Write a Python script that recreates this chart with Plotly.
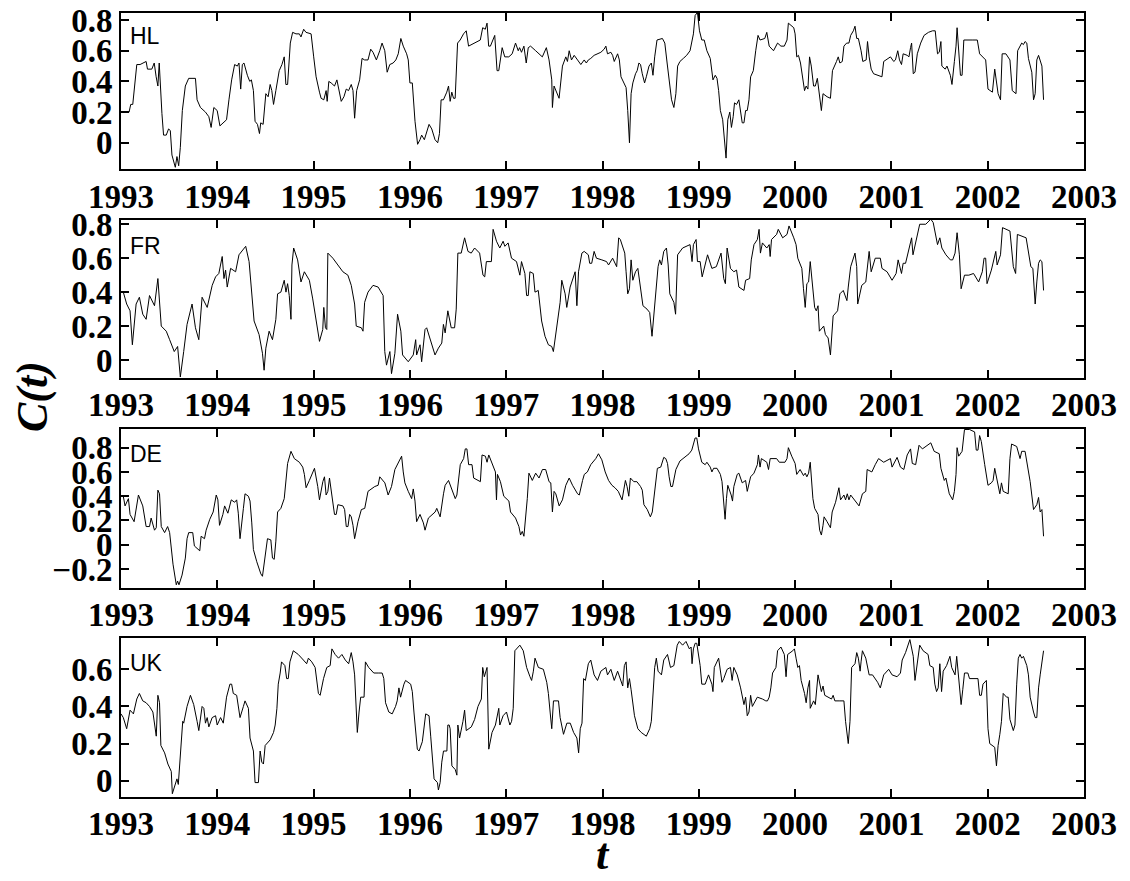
import plotly.graph_objects as go

# ---------------- data (decimal years, C(t)) ----------------
HL_T = [1993.000, 1993.084, 1993.101, 1993.122, 1993.164, 1993.198, 1993.261, 1993.275, 1993.320, 1993.345,
        1993.365, 1993.383, 1993.397, 1993.407, 1993.425, 1993.442, 1993.470, 1993.494, 1993.512, 1993.529,
        1993.564, 1993.581, 1993.599, 1993.616, 1993.637, 1993.668, 1993.703, 1993.773, 1993.790, 1993.825,
        1993.877, 1993.912, 1993.936, 1993.964, 1993.999, 1994.027, 1994.062, 1994.096, 1994.121, 1994.149,
        1994.180, 1994.208, 1994.225, 1994.243, 1994.260, 1994.277, 1994.312, 1994.337, 1994.354, 1994.375,
        1994.392, 1994.417, 1994.438, 1994.451, 1994.476, 1994.504, 1994.528, 1994.549, 1994.566, 1994.584,
        1994.608, 1994.643, 1994.671, 1994.695, 1994.712, 1994.730, 1994.758, 1994.782, 1994.817, 1994.852,
        1994.869, 1994.897, 1994.921, 1994.974, 1995.001, 1995.026, 1995.061, 1995.078, 1995.106, 1995.130,
        1995.141, 1995.158, 1995.182, 1995.217, 1995.242, 1995.262, 1995.287, 1995.315, 1995.339, 1995.363,
        1995.391, 1995.409, 1995.426, 1995.447, 1995.478, 1995.503, 1995.530, 1995.565, 1995.593, 1995.617,
        1995.652, 1995.687, 1995.711, 1995.739, 1995.764, 1995.791, 1995.826, 1995.854, 1995.879, 1995.906,
        1995.931, 1995.966, 1995.983, 1996.000, 1996.025, 1996.053, 1996.080, 1996.105, 1996.122, 1996.150,
        1996.174, 1996.199, 1996.227, 1996.261, 1996.289, 1996.307, 1996.324, 1996.348, 1996.383, 1996.401,
        1996.418, 1996.435, 1996.453, 1996.470, 1996.495, 1996.522, 1996.557, 1996.585, 1996.609, 1996.637,
        1996.679, 1996.731, 1996.756, 1996.783, 1996.801, 1996.818, 1996.836, 1996.860, 1996.881, 1996.905,
        1996.923, 1996.958, 1996.985, 1997.027, 1997.062, 1997.097, 1997.125, 1997.139, 1997.159, 1997.184,
        1997.208, 1997.229, 1997.253, 1997.306, 1997.375, 1997.417, 1997.445, 1997.473, 1997.480, 1997.497,
        1997.514, 1997.549, 1997.584, 1997.619, 1997.636, 1997.654, 1997.678, 1997.706, 1997.741, 1997.775,
        1997.810, 1997.832, 1997.853, 1997.878, 1997.913, 1997.948, 1997.983, 1998.017, 1998.035, 1998.052,
        1998.087, 1998.105, 1998.122, 1998.157, 1998.175, 1998.192, 1998.227, 1998.245, 1998.262, 1998.280,
        1998.297, 1998.315, 1998.343, 1998.360, 1998.378, 1998.395, 1998.413, 1998.437, 1998.455, 1998.483,
        1998.507, 1998.524, 1998.542, 1998.566, 1998.622, 1998.647, 1998.671, 1998.692, 1998.717, 1998.741,
        1998.762, 1998.780, 1998.804, 1998.839, 1998.874, 1998.909, 1998.927, 1998.944, 1998.962, 1998.986,
        1999.007, 1999.031, 1999.056, 1999.084, 1999.119, 1999.147, 1999.171, 1999.189, 1999.206, 1999.224,
        1999.248, 1999.266, 1999.283, 1999.301, 1999.322, 1999.339, 1999.357, 1999.371, 1999.392, 1999.416,
        1999.434, 1999.451, 1999.469, 1999.486, 1999.503, 1999.521, 1999.538, 1999.566, 1999.591, 1999.615,
        1999.636, 1999.685, 1999.706, 1999.731, 1999.776, 1999.818, 1999.853, 1999.888, 1999.916, 1999.930,
        1999.986, 2000.000, 2000.017, 2000.035, 2000.056, 2000.080, 2000.098, 2000.115, 2000.133, 2000.150,
        2000.168, 2000.192, 2000.210, 2000.231, 2000.255, 2000.273, 2000.290, 2000.332, 2000.367, 2000.388,
        2000.430, 2000.448, 2000.465, 2000.490, 2000.507, 2000.535, 2000.559, 2000.577, 2000.605, 2000.622,
        2000.640, 2000.657, 2000.685, 2000.703, 2000.738, 2000.752, 2000.769, 2000.790, 2000.815, 2000.867,
        2000.902, 2000.920, 2000.965, 2000.990, 2001.024, 2001.042, 2001.066, 2001.084, 2001.105, 2001.122,
        2001.164, 2001.182, 2001.199, 2001.210, 2001.227, 2001.245, 2001.269, 2001.304, 2001.339, 2001.385,
        2001.427, 2001.455, 2001.479, 2001.497, 2001.514, 2001.524, 2001.559, 2001.577, 2001.612, 2001.629,
        2001.654, 2001.671, 2001.682, 2001.699, 2001.717, 2001.734, 2001.752, 2001.846, 2001.892, 2001.916,
        2001.979, 2002.003, 2002.049, 2002.073, 2002.091, 2002.108, 2002.133, 2002.150, 2002.189, 2002.231,
        2002.255, 2002.294, 2002.311, 2002.353, 2002.371, 2002.388, 2002.406, 2002.423, 2002.458, 2002.476,
        2002.493, 2002.510, 2002.528, 2002.563, 2002.580]
HL_C = [0.20, 0.20, 0.25, 0.25, 0.51, 0.51, 0.53, 0.48, 0.48, 0.52,
        0.43, 0.37, 0.52, 0.37, 0.19, 0.05, 0.05, 0.09, 0.08, -0.08,
        -0.16, -0.09, -0.15, -0.03, 0.21, 0.37, 0.42, 0.42, 0.28, 0.23,
        0.20, 0.17, 0.10, 0.23, 0.21, 0.11, 0.13, 0.15, 0.28, 0.41,
        0.51, 0.50, 0.52, 0.35, 0.51, 0.52, 0.44, 0.40, 0.41, 0.34,
        0.14, 0.12, 0.06, 0.13, 0.12, 0.32, 0.30, 0.38, 0.34, 0.25,
        0.34, 0.47, 0.51, 0.56, 0.38, 0.38, 0.65, 0.72, 0.71, 0.71,
        0.69, 0.74, 0.72, 0.71, 0.56, 0.43, 0.33, 0.29, 0.28, 0.34,
        0.27, 0.40, 0.39, 0.37, 0.41, 0.34, 0.27, 0.30, 0.35, 0.34,
        0.38, 0.34, 0.16, 0.34, 0.41, 0.55, 0.54, 0.54, 0.61, 0.59,
        0.54, 0.60, 0.65, 0.60, 0.46, 0.51, 0.52, 0.54, 0.58, 0.68,
        0.63, 0.58, 0.54, 0.39, 0.39, 0.14, -0.01, 0.02, 0.05, 0.02,
        0.07, 0.12, 0.09, 0.02, 0.00, 0.06, 0.28, 0.28, 0.33, 0.37,
        0.27, 0.33, 0.29, 0.29, 0.65, 0.67, 0.71, 0.73, 0.63, 0.64,
        0.65, 0.67, 0.75, 0.74, 0.78, 0.63, 0.63, 0.67, 0.70, 0.47,
        0.47, 0.62, 0.56, 0.56, 0.58, 0.65, 0.60, 0.62, 0.59, 0.63,
        0.52, 0.62, 0.63, 0.60, 0.56, 0.62, 0.54, 0.41, 0.23, 0.37,
        0.34, 0.29, 0.50, 0.56, 0.53, 0.60, 0.54, 0.57, 0.54, 0.51,
        0.54, 0.52, 0.54, 0.55, 0.57, 0.58, 0.59, 0.61, 0.63, 0.58,
        0.59, 0.57, 0.53, 0.58, 0.54, 0.43, 0.38, 0.36, 0.21, 0.00,
        0.32, 0.39, 0.45, 0.47, 0.52, 0.51, 0.45, 0.39, 0.43, 0.50,
        0.52, 0.44, 0.56, 0.67, 0.68, 0.65, 0.52, 0.39, 0.28, 0.23,
        0.32, 0.50, 0.53, 0.55, 0.57, 0.60, 0.65, 0.71, 0.83, 0.85,
        0.73, 0.67, 0.67, 0.60, 0.55, 0.41, 0.44, 0.42, 0.34, 0.21,
        0.15, 0.02, -0.10, 0.15, 0.20, 0.10, 0.17, 0.26, 0.25, 0.28,
        0.19, 0.13, 0.13, 0.21, 0.21, 0.28, 0.43, 0.47, 0.60, 0.70,
        0.67, 0.68, 0.72, 0.63, 0.60, 0.65, 0.63, 0.63, 0.67, 0.78,
        0.75, 0.71, 0.56, 0.57, 0.52, 0.40, 0.34, 0.37, 0.35, 0.56,
        0.50, 0.37, 0.37, 0.42, 0.28, 0.21, 0.32, 0.30, 0.29, 0.47,
        0.53, 0.56, 0.52, 0.53, 0.63, 0.65, 0.65, 0.70, 0.73, 0.76,
        0.68, 0.68, 0.60, 0.53, 0.54, 0.66, 0.56, 0.48, 0.45, 0.44,
        0.43, 0.53, 0.55, 0.56, 0.53, 0.54, 0.60, 0.54, 0.51, 0.58,
        0.57, 0.56, 0.62, 0.65, 0.45, 0.46, 0.58, 0.65, 0.70, 0.72,
        0.73, 0.73, 0.58, 0.59, 0.66, 0.50, 0.48, 0.50, 0.44, 0.38,
        0.53, 0.63, 0.75, 0.57, 0.44, 0.44, 0.67, 0.67, 0.67, 0.58,
        0.54, 0.35, 0.33, 0.48, 0.40, 0.32, 0.28, 0.58, 0.58, 0.54,
        0.34, 0.32, 0.60, 0.65, 0.64, 0.66, 0.65, 0.55, 0.46, 0.28,
        0.32, 0.54, 0.57, 0.50, 0.28]

FR_T = [1993.000, 1993.024, 1993.059, 1993.094, 1993.118, 1993.157, 1993.191, 1993.226, 1993.261, 1993.296,
        1993.348, 1993.383, 1993.418, 1993.470, 1993.505, 1993.553, 1993.588, 1993.616, 1993.651, 1993.686,
        1993.738, 1993.773, 1993.808, 1993.842, 1993.895, 1993.947, 1993.982, 1994.016, 1994.051, 1994.069,
        1994.086, 1994.103, 1994.138, 1994.190, 1994.225, 1994.295, 1994.330, 1994.364, 1994.382, 1994.434,
        1994.469, 1994.486, 1994.504, 1994.538, 1994.573, 1994.608, 1994.626, 1994.660, 1994.695, 1994.713,
        1994.730, 1994.747, 1994.765, 1994.775, 1994.793, 1994.834, 1994.869, 1994.904, 1994.956, 1994.991,
        1995.036, 1995.061, 1995.095, 1995.106, 1995.123, 1995.137, 1995.148, 1995.200, 1995.252, 1995.304,
        1995.356, 1995.391, 1995.426, 1995.443, 1995.496, 1995.513, 1995.530, 1995.565, 1995.617, 1995.670,
        1995.722, 1995.739, 1995.757, 1995.792, 1995.809, 1995.844, 1995.872, 1995.906, 1995.924, 1995.983,
        1996.035, 1996.060, 1996.070, 1996.105, 1996.122, 1996.157, 1996.174, 1996.227, 1996.261, 1996.296,
        1996.331, 1996.348, 1996.366, 1996.394, 1996.429, 1996.464, 1996.481, 1996.498, 1996.533, 1996.568,
        1996.603, 1996.637, 1996.672, 1996.724, 1996.759, 1996.777, 1996.794, 1996.846, 1996.864, 1996.899,
        1996.933, 1996.968, 1996.986, 1997.020, 1997.055, 1997.107, 1997.142, 1997.159, 1997.194, 1997.212,
        1997.229, 1997.246, 1997.281, 1997.299, 1997.333, 1997.368, 1997.403, 1997.438, 1997.473, 1997.490,
        1997.525, 1997.560, 1997.577, 1997.612, 1997.629, 1997.664, 1997.716, 1997.734, 1997.751, 1997.786,
        1997.810, 1997.853, 1997.867, 1997.888, 1997.913, 1997.937, 1997.993, 1998.042, 1998.063, 1998.087,
        1998.105, 1998.147, 1998.168, 1998.185, 1998.210, 1998.231, 1998.245, 1998.262, 1998.280, 1998.297,
        1998.315, 1998.343, 1998.367, 1998.402, 1998.420, 1998.462, 1998.490, 1998.514, 1998.542, 1998.577,
        1998.594, 1998.612, 1998.636, 1998.664, 1998.682, 1998.699, 1998.741, 1998.759, 1998.780, 1998.832,
        1998.909, 1998.930, 1998.944, 1998.972, 1998.986, 1999.014, 1999.035, 1999.056, 1999.091, 1999.136,
        1999.182, 1999.231, 1999.259, 1999.276, 1999.294, 1999.329, 1999.364, 1999.392, 1999.416, 1999.469,
        1999.486, 1999.528, 1999.545, 1999.573, 1999.608, 1999.626, 1999.640, 1999.661, 1999.706, 1999.731,
        1999.741, 1999.755, 1999.808, 1999.825, 1999.871, 1999.916, 1999.937, 1999.986, 2000.010, 2000.028,
        2000.070, 2000.087, 2000.105, 2000.122, 2000.140, 2000.157, 2000.185, 2000.203, 2000.220, 2000.238,
        2000.252, 2000.297, 2000.315, 2000.343, 2000.367, 2000.378, 2000.395, 2000.441, 2000.465, 2000.500,
        2000.538, 2000.552, 2000.577, 2000.622, 2000.640, 2000.650, 2000.692, 2000.734, 2000.752, 2000.769,
        2000.790, 2000.832, 2000.885, 2000.902, 2000.955, 2001.007, 2001.049, 2001.070, 2001.105, 2001.122,
        2001.147, 2001.189, 2001.210, 2001.224, 2001.269, 2001.294, 2001.357, 2001.409, 2001.434, 2001.455,
        2001.479, 2001.503, 2001.524, 2001.566, 2001.612, 2001.636, 2001.661, 2001.682, 2001.706, 2001.724,
        2001.759, 2001.804, 2001.853, 2001.906, 2001.944, 2001.962, 2001.979, 2001.993, 2002.038, 2002.084,
        2002.098, 2002.133, 2002.154, 2002.231, 2002.248, 2002.266, 2002.290, 2002.308, 2002.399, 2002.423,
        2002.448, 2002.469, 2002.493, 2002.510, 2002.528, 2002.545, 2002.563, 2002.580]
FR_C = [0.40, 0.40, 0.33, 0.29, 0.09, 0.33, 0.37, 0.27, 0.24, 0.38,
        0.32, 0.48, 0.20, 0.17, 0.12, 0.05, 0.08, -0.10, 0.05, 0.21,
        0.33, 0.19, 0.12, 0.37, 0.31, 0.44, 0.49, 0.51, 0.61, 0.48,
        0.53, 0.43, 0.54, 0.52, 0.62, 0.67, 0.58, 0.34, 0.23, 0.15,
        0.04, -0.06, 0.07, 0.17, 0.12, 0.24, 0.39, 0.40, 0.47, 0.40,
        0.45, 0.38, 0.24, 0.56, 0.66, 0.59, 0.46, 0.52, 0.47, 0.36,
        0.19, 0.11, 0.18, 0.31, 0.19, 0.18, 0.63, 0.60, 0.56, 0.52,
        0.50, 0.44, 0.33, 0.20, 0.19, 0.17, 0.34, 0.40, 0.44, 0.43,
        0.38, 0.05, -0.03, 0.05, -0.08, 0.04, 0.27, 0.17, 0.03, -0.01,
        0.03, 0.12, 0.03, 0.09, -0.01, 0.18, 0.19, 0.10, 0.03, 0.07,
        0.10, 0.21, 0.16, 0.29, 0.19, 0.19, 0.30, 0.63, 0.63, 0.72,
        0.64, 0.63, 0.66, 0.63, 0.50, 0.49, 0.58, 0.58, 0.77, 0.70,
        0.66, 0.70, 0.67, 0.69, 0.60, 0.58, 0.50, 0.58, 0.51, 0.38,
        0.38, 0.52, 0.51, 0.40, 0.41, 0.23, 0.14, 0.09, 0.08, 0.05,
        0.21, 0.34, 0.47, 0.39, 0.31, 0.43, 0.52, 0.32, 0.52, 0.63,
        0.64, 0.62, 0.57, 0.57, 0.64, 0.60, 0.59, 0.58, 0.56, 0.58,
        0.60, 0.55, 0.72, 0.71, 0.66, 0.63, 0.52, 0.39, 0.42, 0.59,
        0.47, 0.52, 0.54, 0.41, 0.32, 0.30, 0.28, 0.14, 0.34, 0.55,
        0.59, 0.56, 0.64, 0.66, 0.56, 0.39, 0.34, 0.27, 0.62, 0.66,
        0.68, 0.58, 0.68, 0.71, 0.58, 0.58, 0.49, 0.54, 0.62, 0.54,
        0.55, 0.63, 0.48, 0.45, 0.66, 0.54, 0.52, 0.53, 0.43, 0.41,
        0.47, 0.48, 0.59, 0.68, 0.71, 0.77, 0.63, 0.69, 0.66, 0.68,
        0.61, 0.71, 0.74, 0.77, 0.72, 0.74, 0.79, 0.72, 0.68, 0.60,
        0.54, 0.42, 0.31, 0.45, 0.46, 0.58, 0.42, 0.31, 0.29, 0.32,
        0.17, 0.20, 0.15, 0.13, 0.03, 0.13, 0.26, 0.29, 0.39, 0.41,
        0.35, 0.43, 0.55, 0.63, 0.55, 0.33, 0.44, 0.46, 0.56, 0.64,
        0.52, 0.60, 0.60, 0.54, 0.52, 0.47, 0.51, 0.59, 0.51, 0.57,
        0.57, 0.66, 0.72, 0.62, 0.74, 0.80, 0.80, 0.83, 0.81, 0.74,
        0.68, 0.72, 0.66, 0.62, 0.59, 0.59, 0.63, 0.75, 0.62, 0.42,
        0.50, 0.50, 0.51, 0.46, 0.52, 0.60, 0.60, 0.45, 0.53, 0.64,
        0.56, 0.62, 0.78, 0.76, 0.66, 0.55, 0.51, 0.74, 0.72, 0.64,
        0.55, 0.54, 0.33, 0.46, 0.57, 0.59, 0.58, 0.41]

DE_T = [1993.000, 1993.024, 1993.042, 1993.077, 1993.094, 1993.136, 1993.181, 1993.226, 1993.261, 1993.296,
        1993.313, 1993.348, 1993.366, 1993.383, 1993.400, 1993.418, 1993.453, 1993.484, 1993.505, 1993.540,
        1993.574, 1993.588, 1993.602, 1993.634, 1993.668, 1993.686, 1993.703, 1993.745, 1993.762, 1993.801,
        1993.818, 1993.832, 1993.867, 1993.884, 1993.922, 1993.957, 1993.989, 1994.006, 1994.023, 1994.058,
        1994.076, 1994.110, 1994.145, 1994.180, 1994.201, 1994.218, 1994.236, 1994.271, 1994.288, 1994.323,
        1994.340, 1994.358, 1994.375, 1994.410, 1994.452, 1994.469, 1994.504, 1994.521, 1994.556, 1994.573,
        1994.591, 1994.608, 1994.626, 1994.660, 1994.695, 1994.713, 1994.730, 1994.765, 1994.800, 1994.852,
        1994.887, 1994.904, 1994.922, 1994.956, 1995.009, 1995.043, 1995.061, 1995.096, 1995.113, 1995.130,
        1995.148, 1995.165, 1995.200, 1995.217, 1995.235, 1995.252, 1995.304, 1995.322, 1995.339, 1995.357,
        1995.374, 1995.391, 1995.409, 1995.426, 1995.461, 1995.496, 1995.531, 1995.565, 1995.635, 1995.670,
        1995.687, 1995.740, 1995.774, 1995.809, 1995.844, 1995.879, 1995.914, 1995.931, 1995.948, 1995.983,
        1996.018, 1996.035, 1996.053, 1996.070, 1996.105, 1996.140, 1996.157, 1996.192, 1996.262, 1996.279,
        1996.314, 1996.349, 1996.366, 1996.401, 1996.436, 1996.471, 1996.488, 1996.523, 1996.558, 1996.575,
        1996.592, 1996.610, 1996.645, 1996.662, 1996.732, 1996.749, 1996.784, 1996.801, 1996.819, 1996.853,
        1996.888, 1996.899, 1996.909, 1996.940, 1996.975, 1997.028, 1997.045, 1997.097, 1997.132, 1997.149,
        1997.167, 1997.184, 1997.202, 1997.219, 1997.236, 1997.271, 1997.306, 1997.341, 1997.376, 1997.410,
        1997.445, 1997.463, 1997.480, 1997.497, 1997.515, 1997.550, 1997.584, 1997.619, 1997.654, 1997.689,
        1997.741, 1997.759, 1997.793, 1997.811, 1997.843, 1997.878, 1997.930, 1997.958, 1997.993, 1998.028,
        1998.063, 1998.098, 1998.129, 1998.164, 1998.203, 1998.220, 1998.238, 1998.255, 1998.273, 1998.290,
        1998.325, 1998.357, 1998.395, 1998.413, 1998.430, 1998.465, 1998.497, 1998.517, 1998.552, 1998.570,
        1998.605, 1998.636, 1998.657, 1998.675, 1998.692, 1998.710, 1998.727, 1998.762, 1998.804, 1998.857,
        1998.899, 1998.927, 1998.944, 1998.962, 1998.979, 1998.997, 1999.031, 1999.066, 1999.084, 1999.119,
        1999.136, 1999.154, 1999.189, 1999.224, 1999.241, 1999.259, 1999.273, 1999.287, 1999.301, 1999.336,
        1999.350, 1999.364, 1999.399, 1999.416, 1999.451, 1999.486, 1999.503, 1999.538, 1999.573, 1999.608,
        1999.619, 1999.636, 1999.650, 1999.706, 1999.724, 1999.741, 1999.808, 1999.836, 1999.895, 1999.916,
        1999.930, 1999.965, 2000.000, 2000.017, 2000.052, 2000.087, 2000.105, 2000.122, 2000.140, 2000.157,
        2000.168, 2000.185, 2000.203, 2000.238, 2000.255, 2000.273, 2000.290, 2000.301, 2000.332, 2000.367,
        2000.385, 2000.420, 2000.455, 2000.472, 2000.507, 2000.524, 2000.542, 2000.559, 2000.577, 2000.612,
        2000.664, 2000.699, 2000.734, 2000.748, 2000.797, 2000.832, 2000.867, 2000.920, 2000.990, 2001.007,
        2001.059, 2001.094, 2001.129, 2001.164, 2001.199, 2001.217, 2001.252, 2001.287, 2001.322, 2001.409,
        2001.444, 2001.497, 2001.514, 2001.549, 2001.566, 2001.601, 2001.636, 2001.654, 2001.671, 2001.682,
        2001.699, 2001.734, 2001.759, 2001.811, 2001.864, 2001.881, 2001.899, 2001.916, 2001.934, 2001.969,
        2002.003, 2002.038, 2002.056, 2002.073, 2002.108, 2002.126, 2002.143, 2002.161, 2002.213, 2002.231,
        2002.248, 2002.301, 2002.336, 2002.353, 2002.388, 2002.406, 2002.423, 2002.441, 2002.476, 2002.510,
        2002.528, 2002.545, 2002.563, 2002.580]
DE_C = [0.40, 0.40, 0.32, 0.38, 0.25, 0.19, 0.41, 0.32, 0.15, 0.15,
        0.22, 0.12, 0.14, 0.45, 0.42, 0.15, 0.10, 0.15, 0.10, -0.16,
        -0.33, -0.30, -0.33, -0.25, -0.11, 0.05, 0.10, 0.10, -0.01, -0.04,
        -0.05, 0.07, 0.05, 0.12, 0.21, 0.27, 0.41, 0.37, 0.16, 0.25,
        0.32, 0.26, 0.37, 0.35, 0.37, 0.26, 0.05, 0.30, 0.42, 0.40,
        0.36, 0.18, -0.04, -0.14, -0.24, -0.26, -0.04, 0.05, 0.04, -0.11,
        -0.12, 0.03, 0.27, 0.30, 0.38, 0.51, 0.67, 0.77, 0.71, 0.68,
        0.64, 0.58, 0.47, 0.53, 0.63, 0.48, 0.37, 0.52, 0.56, 0.41,
        0.44, 0.55, 0.33, 0.25, 0.25, 0.33, 0.32, 0.29, 0.15, 0.15,
        0.25, 0.23, 0.16, 0.05, 0.19, 0.29, 0.30, 0.44, 0.48, 0.49,
        0.56, 0.51, 0.41, 0.48, 0.62, 0.68, 0.73, 0.60, 0.51, 0.44,
        0.38, 0.46, 0.36, 0.19, 0.25, 0.18, 0.12, 0.22, 0.27, 0.30,
        0.23, 0.42, 0.49, 0.53, 0.45, 0.38, 0.41, 0.66, 0.71, 0.79,
        0.79, 0.66, 0.66, 0.55, 0.52, 0.74, 0.73, 0.68, 0.74, 0.67,
        0.60, 0.37, 0.58, 0.52, 0.40, 0.36, 0.27, 0.22, 0.15, 0.08,
        0.11, 0.07, 0.22, 0.38, 0.59, 0.53, 0.59, 0.55, 0.62, 0.62,
        0.52, 0.51, 0.27, 0.44, 0.42, 0.32, 0.37, 0.49, 0.55, 0.49,
        0.42, 0.41, 0.53, 0.58, 0.60, 0.66, 0.71, 0.75, 0.70, 0.60,
        0.53, 0.49, 0.47, 0.44, 0.37, 0.45, 0.53, 0.48, 0.40, 0.55,
        0.52, 0.52, 0.48, 0.45, 0.33, 0.29, 0.23, 0.27, 0.49, 0.63,
        0.64, 0.72, 0.71, 0.67, 0.56, 0.48, 0.48, 0.62, 0.69, 0.72,
        0.75, 0.78, 0.84, 0.88, 0.88, 0.79, 0.68, 0.66, 0.68, 0.64,
        0.60, 0.63, 0.63, 0.58, 0.52, 0.36, 0.21, 0.38, 0.49, 0.41,
        0.36, 0.48, 0.58, 0.59, 0.51, 0.53, 0.44, 0.56, 0.59, 0.66,
        0.74, 0.64, 0.71, 0.68, 0.62, 0.71, 0.71, 0.68, 0.68, 0.71,
        0.80, 0.73, 0.67, 0.58, 0.62, 0.57, 0.59, 0.56, 0.59, 0.68,
        0.55, 0.38, 0.30, 0.25, 0.12, 0.08, 0.16, 0.23, 0.19, 0.14,
        0.27, 0.35, 0.47, 0.37, 0.41, 0.37, 0.42, 0.37, 0.41, 0.37,
        0.32, 0.42, 0.44, 0.62, 0.60, 0.66, 0.71, 0.68, 0.71, 0.64,
        0.72, 0.64, 0.62, 0.74, 0.79, 0.67, 0.66, 0.82, 0.79, 0.84,
        0.77, 0.75, 0.63, 0.53, 0.55, 0.42, 0.37, 0.44, 0.58, 0.80,
        0.73, 0.77, 0.95, 0.95, 0.93, 0.78, 0.78, 0.90, 0.85, 0.66,
        0.49, 0.51, 0.53, 0.63, 0.48, 0.42, 0.51, 0.44, 0.42, 0.71,
        0.83, 0.81, 0.71, 0.77, 0.77, 0.68, 0.62, 0.52, 0.29, 0.33,
        0.39, 0.27, 0.29, 0.07]

UK_T = [1993.000, 1993.024, 1993.059, 1993.094, 1993.129, 1993.164, 1993.191, 1993.226, 1993.261, 1993.296,
        1993.331, 1993.348, 1993.366, 1993.383, 1993.400, 1993.414, 1993.453, 1993.487, 1993.522, 1993.533,
        1993.564, 1993.581, 1993.595, 1993.609, 1993.627, 1993.641, 1993.651, 1993.686, 1993.721, 1993.755,
        1993.790, 1993.808, 1993.842, 1993.860, 1993.877, 1993.895, 1993.912, 1993.947, 1993.982, 1993.999,
        1994.034, 1994.062, 1994.096, 1994.131, 1994.149, 1994.166, 1994.201, 1994.236, 1994.271, 1994.288,
        1994.323, 1994.340, 1994.375, 1994.392, 1994.427, 1994.445, 1994.462, 1994.479, 1994.497, 1994.549,
        1994.584, 1994.601, 1994.619, 1994.633, 1994.653, 1994.667, 1994.702, 1994.720, 1994.737, 1994.754,
        1994.789, 1994.841, 1994.894, 1994.928, 1994.946, 1994.981, 1995.016, 1995.033, 1995.050, 1995.068,
        1995.103, 1995.137, 1995.172, 1995.190, 1995.224, 1995.259, 1995.294, 1995.329, 1995.364, 1995.391,
        1995.409, 1995.426, 1995.440, 1995.454, 1995.472, 1995.489, 1995.524, 1995.538, 1995.572, 1995.625,
        1995.677, 1995.712, 1995.729, 1995.747, 1995.781, 1995.816, 1995.851, 1995.868, 1995.886, 1995.903,
        1995.938, 1995.955, 1996.008, 1996.025, 1996.042, 1996.060, 1996.077, 1996.095, 1996.129, 1996.164,
        1996.199, 1996.216, 1996.234, 1996.251, 1996.286, 1996.296, 1996.314, 1996.331, 1996.349, 1996.384,
        1996.394, 1996.408, 1996.418, 1996.436, 1996.471, 1996.488, 1996.498, 1996.516, 1996.551, 1996.568,
        1996.585, 1996.638, 1996.672, 1996.707, 1996.742, 1996.756, 1996.773, 1996.801, 1996.819, 1996.853,
        1996.888, 1996.923, 1996.934, 1996.968, 1997.003, 1997.038, 1997.056, 1997.073, 1997.090, 1997.125,
        1997.142, 1997.177, 1997.212, 1997.247, 1997.264, 1997.282, 1997.299, 1997.334, 1997.386, 1997.421,
        1997.438, 1997.456, 1997.473, 1997.491, 1997.543, 1997.560, 1997.595, 1997.630, 1997.665, 1997.700,
        1997.734, 1997.752, 1997.769, 1997.787, 1997.804, 1997.822, 1997.832, 1997.853, 1997.878, 1997.913,
        1997.948, 1997.983, 1998.035, 1998.052, 1998.087, 1998.122, 1998.157, 1998.192, 1998.210, 1998.227,
        1998.245, 1998.262, 1998.280, 1998.297, 1998.315, 1998.332, 1998.367, 1998.402, 1998.455, 1998.490,
        1998.507, 1998.524, 1998.542, 1998.559, 1998.577, 1998.612, 1998.636, 1998.675, 1998.706, 1998.741,
        1998.776, 1998.797, 1998.832, 1998.867, 1998.902, 1998.920, 1998.930, 1998.944, 1998.962, 1998.979,
        1999.014, 1999.031, 1999.066, 1999.101, 1999.136, 1999.147, 1999.161, 1999.206, 1999.241, 1999.259,
        1999.294, 1999.329, 1999.346, 1999.364, 1999.399, 1999.434, 1999.469, 1999.486, 1999.503, 1999.521,
        1999.538, 1999.556, 1999.608, 1999.661, 1999.696, 1999.713, 1999.731, 1999.748, 1999.766, 1999.801,
        1999.818, 1999.853, 1999.888, 1999.906, 1999.923, 1999.976, 1999.993, 2000.010, 2000.028, 2000.045,
        2000.063, 2000.098, 2000.115, 2000.133, 2000.150, 2000.157, 2000.192, 2000.210, 2000.227, 2000.238,
        2000.273, 2000.290, 2000.308, 2000.343, 2000.378, 2000.395, 2000.413, 2000.465, 2000.507, 2000.524,
        2000.552, 2000.570, 2000.587, 2000.622, 2000.640, 2000.657, 2000.675, 2000.685, 2000.699, 2000.734,
        2000.769, 2000.804, 2000.857, 2000.885, 2000.920, 2000.972, 2001.007, 2001.059, 2001.094, 2001.112,
        2001.147, 2001.192, 2001.227, 2001.245, 2001.280, 2001.294, 2001.329, 2001.381, 2001.399, 2001.434,
        2001.451, 2001.469, 2001.486, 2001.503, 2001.521, 2001.538, 2001.573, 2001.608, 2001.626, 2001.661,
        2001.678, 2001.696, 2001.724, 2001.741, 2001.759, 2001.794, 2001.811, 2001.899, 2001.916, 2001.934,
        2001.951, 2001.986, 2002.003, 2002.021, 2002.073, 2002.091, 2002.108, 2002.126, 2002.143, 2002.161,
        2002.196, 2002.213, 2002.231, 2002.266, 2002.283, 2002.301, 2002.318, 2002.336, 2002.353, 2002.371,
        2002.406, 2002.423, 2002.441, 2002.476, 2002.493, 2002.510, 2002.528, 2002.545, 2002.563, 2002.580]
UK_C = [0.36, 0.34, 0.28, 0.38, 0.36, 0.44, 0.47, 0.43, 0.42, 0.40,
        0.37, 0.30, 0.24, 0.46, 0.42, 0.19, 0.15, 0.09, 0.05, -0.07,
        -0.02, 0.01, -0.02, 0.07, 0.21, 0.32, 0.31, 0.40, 0.46, 0.41,
        0.32, 0.27, 0.40, 0.39, 0.31, 0.34, 0.29, 0.34, 0.35, 0.30,
        0.34, 0.31, 0.45, 0.52, 0.52, 0.47, 0.46, 0.34, 0.40, 0.43,
        0.39, 0.23, 0.16, -0.01, -0.01, 0.16, 0.10, 0.09, 0.19, 0.22,
        0.26, 0.30, 0.39, 0.52, 0.58, 0.64, 0.62, 0.55, 0.55, 0.64,
        0.70, 0.68, 0.65, 0.63, 0.66, 0.64, 0.61, 0.53, 0.47, 0.46,
        0.55, 0.61, 0.62, 0.71, 0.68, 0.66, 0.68, 0.65, 0.63, 0.69,
        0.64, 0.57, 0.44, 0.26, 0.37, 0.45, 0.45, 0.64, 0.61, 0.58,
        0.58, 0.58, 0.55, 0.42, 0.37, 0.36, 0.40, 0.43, 0.50, 0.45,
        0.52, 0.54, 0.52, 0.48, 0.37, 0.27, 0.17, 0.16, 0.21, 0.36,
        0.35, 0.24, 0.10, 0.01, -0.01, -0.05, -0.01, 0.10, 0.16, 0.16,
        0.30, 0.30, 0.28, 0.08, 0.06, 0.03, 0.30, 0.23, 0.32, 0.38,
        0.27, 0.29, 0.33, 0.40, 0.44, 0.61, 0.56, 0.61, 0.17, 0.26,
        0.30, 0.39, 0.30, 0.35, 0.37, 0.30, 0.32, 0.39, 0.70, 0.72,
        0.73, 0.70, 0.61, 0.56, 0.54, 0.59, 0.66, 0.61, 0.60, 0.53,
        0.47, 0.37, 0.28, 0.43, 0.43, 0.34, 0.25, 0.31, 0.31, 0.26,
        0.23, 0.15, 0.28, 0.31, 0.55, 0.54, 0.57, 0.63, 0.65, 0.57,
        0.54, 0.59, 0.61, 0.57, 0.60, 0.54, 0.59, 0.54, 0.51, 0.62,
        0.64, 0.50, 0.55, 0.49, 0.43, 0.35, 0.28, 0.26, 0.24, 0.28,
        0.32, 0.48, 0.61, 0.66, 0.59, 0.57, 0.65, 0.68, 0.61, 0.62,
        0.73, 0.75, 0.73, 0.75, 0.71, 0.72, 0.63, 0.71, 0.74, 0.74,
        0.62, 0.52, 0.52, 0.57, 0.52, 0.48, 0.61, 0.66, 0.53, 0.55,
        0.60, 0.61, 0.54, 0.61, 0.57, 0.50, 0.41, 0.45, 0.35, 0.37,
        0.46, 0.40, 0.45, 0.44, 0.43, 0.43, 0.45, 0.50, 0.58, 0.61,
        0.70, 0.72, 0.68, 0.56, 0.68, 0.70, 0.71, 0.66, 0.61, 0.62,
        0.54, 0.47, 0.42, 0.50, 0.54, 0.39, 0.43, 0.41, 0.51, 0.57,
        0.48, 0.51, 0.46, 0.45, 0.44, 0.46, 0.43, 0.43, 0.43, 0.32,
        0.20, 0.32, 0.61, 0.63, 0.69, 0.66, 0.59, 0.64, 0.70, 0.66,
        0.57, 0.57, 0.53, 0.50, 0.57, 0.60, 0.57, 0.56, 0.58, 0.65,
        0.69, 0.76, 0.67, 0.54, 0.69, 0.73, 0.70, 0.68, 0.62, 0.61,
        0.52, 0.48, 0.50, 0.63, 0.48, 0.59, 0.62, 0.67, 0.61, 0.57,
        0.67, 0.57, 0.41, 0.49, 0.58, 0.58, 0.55, 0.55, 0.46, 0.46,
        0.52, 0.54, 0.28, 0.20, 0.18, 0.08, 0.19, 0.25, 0.32, 0.47,
        0.45, 0.45, 0.33, 0.27, 0.30, 0.52, 0.66, 0.68, 0.66, 0.67,
        0.62, 0.57, 0.45, 0.37, 0.34, 0.34, 0.50, 0.57, 0.64, 0.70]

PANEL_NAMES = ["HL", "FR", "DE", "UK"]
YEAR_TICKS = [1993, 1994, 1995, 1996, 1997, 1998, 1999, 2000, 2001, 2002, 2003]
Y_TICKS = [
    [0, 0.2, 0.4, 0.6, 0.8],
    [0, 0.2, 0.4, 0.6, 0.8],
    [-0.2, 0, 0.2, 0.4, 0.6, 0.8],
    [0, 0.2, 0.4, 0.6],
]
Y_RANGES = [[-0.173, 0.848], [-0.104, 0.825], [-0.354, 0.954], [-0.086, 0.767]]
SERIES = [(HL_T, HL_C), (FR_T, FR_C), (DE_T, DE_C), (UK_T, UK_C)]

# ---------------- layout geometry (target page pixels) ----------------
PAGE_OFF = 8                      # default body margin of the html page
W, H = 1130 - PAGE_OFF, 881 - PAGE_OFF
PLOT_L, PLOT_R = 121, 1084
PANEL_TB = [(12.7, 169.3), (220.0, 377.7), (429.0, 587.7), (638.3, 796.7)]
LABEL_Y = [35.5, 245.8, 454.0, 662.5]


def px(xp):
    return (xp - PAGE_OFF) / W


def py(yp):
    return 1 - (yp - PAGE_OFF) / H


TICK_FONT = dict(family="Liberation Serif", size=33, color="black", weight="bold")


def fmt(v):
    if abs(v) < 1e-9:
        return "0"
    s = f"{abs(v):.1f}"
    return ("\u2212" if v < 0 else "") + s


fig = go.Figure()
layout = dict(
    width=W, height=H,
    margin=dict(l=0, r=0, t=0, b=0, autoexpand=False),
    paper_bgcolor="white", plot_bgcolor="white",
    showlegend=False,
)
annotations = []
for i, ((t, c), name) in enumerate(zip(SERIES, PANEL_NAMES)):
    k = "" if i == 0 else str(i + 1)
    fig.add_trace(go.Scatter(x=t, y=c, mode="lines",
                             line=dict(color="black", width=1),
                             xaxis="x" + k, yaxis="y" + k, hoverinfo="skip"))
    top, bot = PANEL_TB[i]
    common = dict(showline=True, linecolor="black", linewidth=2, mirror="ticks",
                  ticks="inside", ticklen=8, tickwidth=1.8, tickcolor="black",
                  showgrid=False, zeroline=False, tickfont=TICK_FONT, automargin=False,
                  ticklabeloverflow="allow")
    layout["xaxis" + k] = dict(domain=[px(PLOT_L), px(PLOT_R)], anchor="y" + k,
                               range=[1993, 2003], tickmode="array",
                               tickvals=YEAR_TICKS, ticktext=[str(y) for y in YEAR_TICKS],
                               ticklabelstandoff=-3, **common)
    layout["yaxis" + k] = dict(domain=[py(bot), py(top)], anchor="x" + k,
                               range=Y_RANGES[i], tickmode="array",
                               tickvals=Y_TICKS[i], ticktext=[fmt(v) for v in Y_TICKS[i]],
                               **common)
    annotations.append(dict(text=name, x=px(128), y=py(LABEL_Y[i]), xref="paper", yref="paper",
                            xanchor="left", yanchor="middle", showarrow=False,
                            font=dict(family="Liberation Sans", size=23, color="black")))

annotations.append(dict(text="t", x=px(603), y=0, xref="paper", yref="paper",
                        xanchor="center", yanchor="bottom", showarrow=False,
                        font=dict(family="Liberation Serif", size=44, color="black",
                                  weight="bold", style="italic")))
annotations.append(dict(text="C(t)", x=px(32), y=py(397), xref="paper", yref="paper",
                        xanchor="center", yanchor="middle", showarrow=False, textangle=-90,
                        font=dict(family="Liberation Serif", size=44, color="black",
                                  weight="bold", style="italic")))
layout["annotations"] = annotations
fig.update_layout(**layout)
fig.write_html("out.html")
